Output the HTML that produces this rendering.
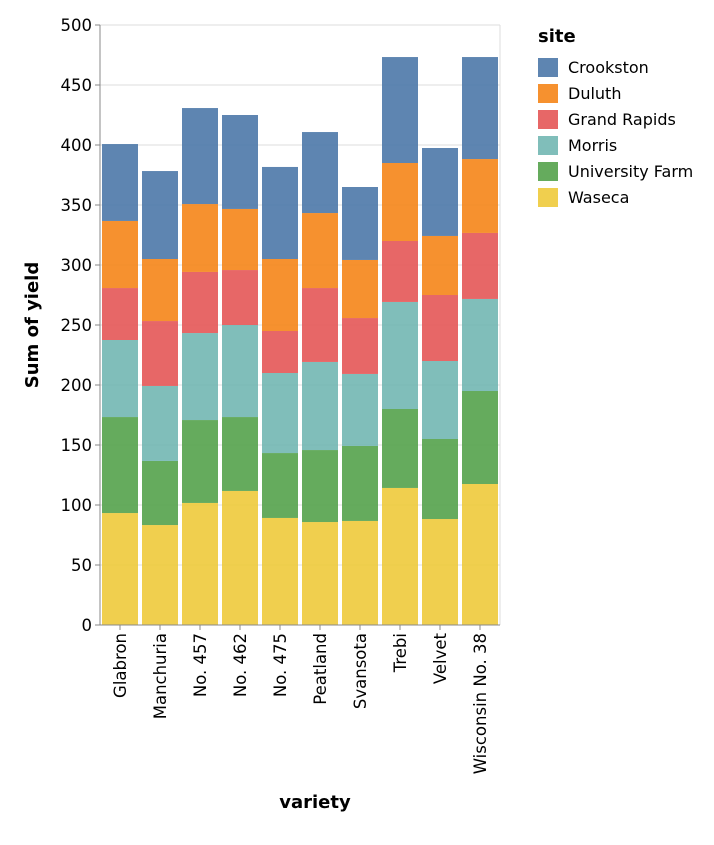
<!DOCTYPE html>
<html><head><meta charset="utf-8"><style>
body{margin:0;background:#fff;}
svg text{font-family:"DejaVu Sans","Liberation Sans",sans-serif;fill:#000;}
</style></head><body>
<svg id="chart" width="714" height="840"></svg>
<script>
const varieties=["Glabron","Manchuria","No. 457","No. 462","No. 475","Peatland","Svansota","Trebi","Velvet","Wisconsin No. 38"];
const sites=["Crookston","Duluth","Grand Rapids","Morris","University Farm","Waseca"];
const colors=["#4c78a8","#f58518","#e45756","#72b7b2","#54a24b","#eeca3b"];
const waseca=[93.3,83.3,101.7,111.7,89.2,85.8,86.7,114.2,88.3,117.5];
const universityFarm=[80,53.4,69.1,61.6,54.1,60,62.5,65.8,66.7,77.5];
const morris=[64.2,62.5,72.5,76.7,66.7,73.4,60,89.2,65,76.7];
const grandRapids=[43.3,54.1,50.9,45.8,35,61.6,46.6,50.8,55,55];
const duluth=[55.9,51.7,56.6,50.9,60,62.5,48.4,65,49.2,61.6];
const crookston=[64.1,73.3,80,78.3,76.7,67.5,60.8,88.3,73.3,85];
const yTicks=[0,50,100,150,200,250,300,350,400,450,500];

const NS="http://www.w3.org/2000/svg";
const svg=document.getElementById('chart');
const X0=100,X1=500,Y0=625,Y1=25,YMAX=500;
const band=(X1-X0)/varieties.length;
const xs=i=>X0+i*band;
const ys=v=>Y0-(v/YMAX)*(Y0-Y1);
function mk(t,a,txt){const e=document.createElementNS(NS,t);for(const k in a)e.setAttribute(k,a[k]);if(txt!==undefined)e.textContent=txt;svg.appendChild(e);return e;}

yTicks.forEach(t=>{
  const g=mk('line',{x1:X0,x2:X1,y1:ys(t),y2:ys(t),stroke:'#ddd'});
  
  
});
mk('line',{x1:X1,x2:X1,y1:Y1,y2:Y0,stroke:'#ddd'});

const stack=[[waseca,5,'waseca'],[universityFarm,4,'university-farm'],[morris,3,'morris'],[grandRapids,2,'grand-rapids'],[duluth,1,'duluth'],[crookston,0,'crookston']];
varieties.forEach((v,i)=>{
  let base=0;
  stack.forEach(([arr,ci,nm])=>{
    const top=base+arr[i];
    const r=mk('rect',{x:xs(i)+2,width:band-4,y:ys(top),height:ys(base)-ys(top),fill:colors[ci],'fill-opacity':0.9});
    
    
    base=top;
  });
});

mk('line',{x1:X0,x2:X0,y1:Y1,y2:Y0,stroke:'#888'});
yTicks.forEach(t=>{
  mk('line',{x1:X0-5,x2:X0,y1:ys(t),y2:ys(t),stroke:'#888'});
  const l=mk('text',{x:X0-8,y:ys(t)+6,'text-anchor':'end','font-size':16.5},t);
  
  
});
mk('line',{x1:X0,x2:X1,y1:Y0,y2:Y0,stroke:'#888'});
varieties.forEach((v,i)=>{
  const cx=xs(i)+band/2;
  mk('line',{x1:cx,x2:cx,y1:Y0,y2:Y0+5,stroke:'#888'});
  const l=mk('text',{x:0,y:0,'text-anchor':'end','font-size':16.5,transform:`translate(${cx+6},${Y0+8}) rotate(-90)`},v);
  
  
});
const yt=mk('text',{x:0,y:0,'text-anchor':'middle','font-size':18,'font-weight':'bold',transform:'translate(38,325) rotate(-90)'},'Sum of yield');

const xt=mk('text',{x:315,y:808,'text-anchor':'middle','font-size':18,'font-weight':'bold'},'variety');


const lt=mk('text',{x:538,y:42,'font-size':18,'font-weight':'bold'},'site');

sites.forEach((s,i)=>{
  const y=58+i*26;
  const r=mk('rect',{x:538,y:y,width:20,height:19,fill:colors[i],'fill-opacity':0.9});
  
  const t=mk('text',{x:568,y:y+15,'font-size':16},s);
  
});
</script>
</body></html>
